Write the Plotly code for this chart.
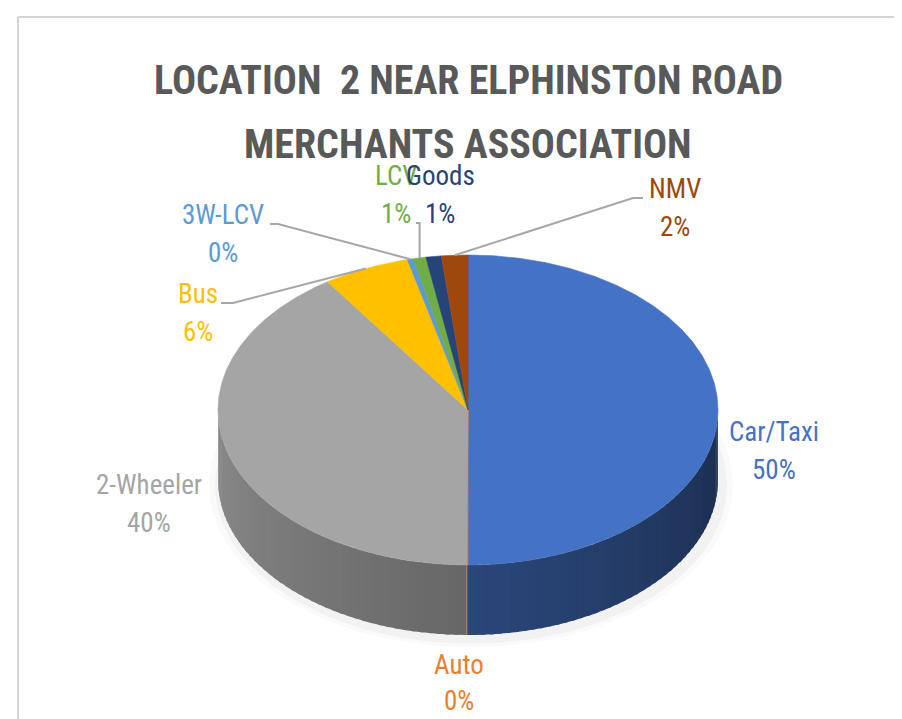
import numpy as np
import plotly.graph_objects as go

# ---------- DATA ----------
labels = ["Car/Taxi", "Auto", "2-Wheeler", "Bus", "3W-LCV", "LCV", "Goods", "NMV"]
shares = [50.0, 0.1, 40.4, 5.6, 0.4, 0.8, 1.0, 1.7]
colors = ["#4472C4", "#ED7D31", "#A5A5A5", "#FFC000", "#5B9BD5", "#70AD47", "#264478", "#9E480E"]
pct_text = [f"{round(v)}%" for v in shares]

title_lines = ["LOCATION  2 NEAR ELPHINSTON ROAD", "MERCHANTS ASSOCIATION"]

# ---------- GEOMETRY (3-D pie drawn as an ellipse, in pixel units) ----------
cx, cy, a, b, depth = 460, 402, 250, 155, 70


def pt(theta):
    t = np.radians(theta)
    return cx + a * np.sin(t), cy - b * np.cos(t)


def arc(t0, t1, step=1.0):
    n = max(2, int(abs(t1 - t0) / step) + 2)
    th = np.linspace(t0, t1, n)
    return pt(th)


def shade(hex_color, k):
    h = hex_color.lstrip("#")
    r, g, bb = (int(h[i:i + 2], 16) for i in (0, 2, 4))
    return "rgb({},{},{})".format(int(r * k), int(g * k), int(bb * k))


bounds = np.concatenate([[0], np.cumsum(shares)]) * 360 / sum(shares)

fig = go.Figure()

# soft shadow under the pie
for grow, alpha in [(12, 0.02), (6, 0.03)]:
    sx, sy = arc(0, 360, 2)
    sx = cx + 3 + (sx - cx) * (a + grow) / a
    sy = cy + depth + 5 + (sy - cy) * (b + grow * 0.6) / b
    fig.add_trace(go.Scatter(x=sx, y=sy, fill="toself", mode="lines",
                             line=dict(width=0), fillcolor=f"rgba(0,0,0,{alpha})",
                             hoverinfo="skip", showlegend=False))

# side walls (front half only), split in overlapping strips for light shading
for i, col in enumerate(colors):
    lo, hi = max(bounds[i], 90), min(bounds[i + 1], 270)
    if hi <= lo:
        continue
    edges = np.linspace(lo, hi, max(2, int((hi - lo) / 2) + 2))
    for s0, s1 in zip(edges[:-1], edges[1:]):
        tx, ty = arc(s0, min(s1 + 0.8, hi), 0.5)
        px = np.concatenate([tx, tx[::-1]])
        py = np.concatenate([ty, ty[::-1] + depth])
        k = 0.40 + 0.45 * ((s0 + s1) / 2 - 90) / 180
        c = shade(col, k)
        fig.add_trace(go.Scatter(x=px, y=py, fill="toself", mode="lines",
                                 line=dict(width=0), fillcolor=c,
                                 hoverinfo="skip", showlegend=False))

# top faces
for i, col in enumerate(colors):
    tx, ty = arc(bounds[i], bounds[i + 1], 0.5)
    px = np.concatenate([[cx], tx, [cx]])
    py = np.concatenate([[cy], ty, [cy]])
    fig.add_trace(go.Scatter(x=px, y=py, fill="toself", mode="lines",
                             line=dict(width=0.6, color=col), fillcolor=col,
                             name=labels[i], text=f"{labels[i]}: {pct_text[i]}",
                             hoverinfo="text", showlegend=False))

# ---------- LABELS ----------
label_pos = {
    "Car/Taxi": (766, 424),
    "Auto": (451, 657),
    "2-Wheeler": (141, 477),
    "Bus": (190, 286),
    "3W-LCV": (215, 207),
    "LCV": (388, 168),
    "Goods": (432, 168),
    "NMV": (667, 181),
}
font_name = "Liberation Sans Narrow, Roboto Condensed, Arial Narrow, Liberation Sans, sans-serif"
annotations = []
for i, lab in enumerate(labels):
    x, y = label_pos[lab]
    gap = 36 if lab == "Auto" else 38
    for txt, yy in [(lab, y), (pct_text[i], y + gap)]:
        annotations.append(dict(x=x, y=yy, xref="x", yref="y", text=txt, showarrow=False,
                                xanchor="center", yanchor="middle",
                                font=dict(family=font_name, size=27, color=colors[i])))

for j, line in enumerate(title_lines):
    annotations.append(dict(x=460, y=72 + j * 64, xref="x", yref="y", text=f"<b>{line}</b>",
                            showarrow=False, xanchor="center", yanchor="middle",
                            font=dict(family=font_name, size=40, color="#595959")))

# leader lines
shapes = []
mid = {lab: pt((bounds[i] + bounds[i + 1]) / 2) for i, lab in enumerate(labels)}
leaders = [
    ("NMV", [(635, 190), (625, 190)]),
    ("3W-LCV", [(262, 216), (270, 216)]),
    ("Bus", [(213, 295), (225, 295)]),
]
for lab, pts in leaders:
    ex, ey = mid[lab]
    path = "M {},{} L {},{} L {:.1f},{:.1f}".format(*pts[0], *pts[1], ex, ey)
    shapes.append(dict(type="path", path=path, xref="x", yref="y",
                       line=dict(color="#a6a6a6", width=2)))
ex, ey = mid["LCV"]
shapes.append(dict(type="path", xref="x", yref="y",
                   path="M 408,215 L {:.1f},215 L {:.1f},{:.1f}".format(ex, ex, ey),
                   line=dict(color="#a6a6a6", width=2)))

# chart border
shapes.append(dict(type="line", xref="x", yref="y", x0=10, y0=9, x1=902, y1=9,
                   line=dict(color="#d4d4d4", width=2)))
shapes.append(dict(type="line", xref="x", yref="y", x0=10, y0=9, x1=10, y1=719,
                   line=dict(color="#d4d4d4", width=2)))

fig.update_layout(
    width=902, height=719,
    margin=dict(l=0, r=0, t=0, b=0, pad=0),
    paper_bgcolor="white", plot_bgcolor="white",
    xaxis=dict(range=[0, 902], visible=False, fixedrange=True),
    yaxis=dict(range=[719, 0], visible=False, fixedrange=True),
    annotations=annotations,
    shapes=shapes,
    showlegend=False,
)

fig.write_html("out.html")
